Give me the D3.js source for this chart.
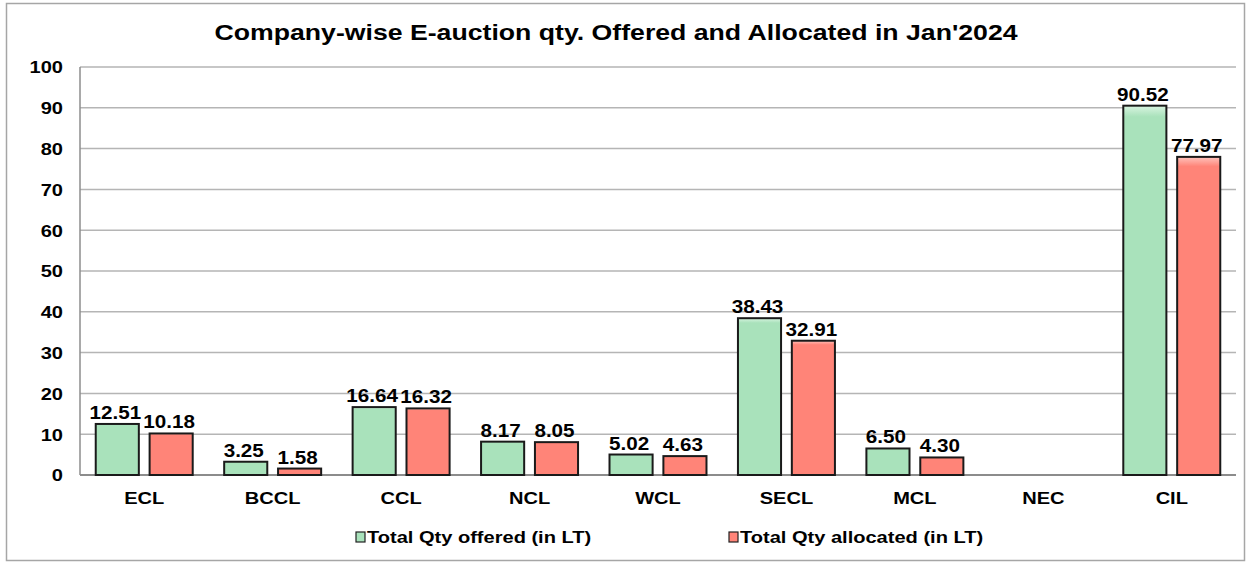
<!DOCTYPE html>
<html>
<head>
<meta charset="utf-8">
<script src="https://cdn.jsdelivr.net/npm/d3@7"></script>
<style>
body { margin: 0; background: #fff; }
text { font-family: Arial, "Liberation Sans", sans-serif; font-weight: bold; fill: #000; }
</style>
</head>
<body>
<svg></svg>
<script>
let companies = ['ECL', 'BCCL', 'CCL', 'NCL', 'WCL', 'SECL', 'MCL', 'NEC', 'CIL']
let offered = [12.51, 3.25, 16.64, 8.17, 5.02, 38.43, 6.50, null, 90.52]
let allocated = [10.18, 1.58, 16.32, 8.05, 4.63, 32.91, 4.30, null, 77.97]
let seriesNames = ['Total Qty offered (in LT)', 'Total Qty allocated (in LT)']
let yTicks = [0, 10, 20, 30, 40, 50, 60, 70, 80, 90, 100]

let width = 1248
let height = 565
let plotLeft = 80
let plotRight = 1236
let plotTop = 67
let plotBottom = 475
let stretch = 1.18   // the original text is a bit wide
let colors = ['#a9e2bb', '#ff8478']
let lights = ['#d9f4e1', '#ffc4bd']

let svg = d3.select('svg').attr('width', width).attr('height', height)

// move x/y into a transform so the text can be widened in place
let widen = (sel) => {
    sel.each(function () {
        let t = d3.select(this)
        let x = +t.attr('x') || 0
        let y = +t.attr('y') || 0
        t.attr('x', 0).attr('y', 0)
            .attr('transform', 'translate(' + x + ',' + y + ') scale(' + stretch + ',1)')
    })
}

let defs = svg.append('defs')
colors.forEach((c, i) => {
    let g = defs.append('linearGradient').attr('id', 'grad' + i)
        .attr('x1', 0).attr('y1', 0).attr('x2', 0).attr('y2', 1)
    g.append('stop').attr('offset', '0%').attr('stop-color', lights[i])
    g.append('stop').attr('offset', '3%').attr('stop-color', c)
    g.append('stop').attr('offset', '100%').attr('stop-color', c)
})

// outer frame
svg.append('rect')
    .attr('x', 6.5).attr('y', 3.5)
    .attr('width', 1238).attr('height', 557)
    .attr('fill', 'none').attr('stroke', '#a6a6a6').attr('stroke-width', 1.5)

svg.append('text')
    .attr('x', 616).attr('y', 40)
    .attr('text-anchor', 'middle')
    .style('font-size', '22.6px')
    .text("Company-wise E-auction qty. Offered and Allocated in Jan'2024")
    .call(widen)

let yScale = d3.scaleLinear().domain([0, 100]).range([plotBottom, plotTop])

let xScale = d3.scaleBand()
    .domain(companies)
    .range([plotLeft, plotRight])
    .paddingInner(0.245)
    .paddingOuter(0.1225)

let xInner = d3.scaleBand()
    .domain([0, 1])
    .range([0, xScale.bandwidth()])
    .paddingInner(0.2)

// gridlines
svg.append('g')
    .selectAll('line')
    .data(yTicks)
    .enter()
    .append('line')
    .attr('x1', plotLeft).attr('x2', plotRight)
    .attr('y1', d => yScale(d)).attr('y2', d => yScale(d))
    .attr('stroke', d => d === 0 ? '#8c8c8c' : '#b5b5b5')
    .attr('stroke-width', d => d === 0 ? 2 : 1.5)

svg.append('line')
    .attr('x1', plotLeft).attr('x2', plotLeft)
    .attr('y1', plotTop).attr('y2', plotBottom)
    .attr('stroke', '#8c8c8c').attr('stroke-width', 1.5)

let yAxis = d3.axisLeft(yScale).tickValues(yTicks).tickSize(0).tickPadding(17)
let yG = svg.append('g')
    .attr('transform', 'translate(' + plotLeft + ',0)')
    .call(yAxis)
yG.select('.domain').remove()
yG.selectAll('text').style('font-size', '17px').attr('dy', '0.35em').call(widen)

let xAxis = d3.axisBottom(xScale).tickSize(0).tickPadding(17)
let xG = svg.append('g')
    .attr('transform', 'translate(0,' + plotBottom + ')')
    .call(xAxis)
xG.select('.domain').remove()
xG.selectAll('text').style('font-size', '17px').call(widen)

let rows = []
companies.forEach((c, i) => {
    rows.push({ company: c, s: 0, value: offered[i] })
    rows.push({ company: c, s: 1, value: allocated[i] })
})
let shown = rows.filter(d => d.value !== null)

svg.append('g')
    .selectAll('rect')
    .data(shown)
    .enter()
    .append('rect')
    .attr('x', d => xScale(d.company) + xInner(d.s))
    .attr('y', d => yScale(d.value))
    .attr('width', xInner.bandwidth())
    .attr('height', d => yScale(0) - yScale(d.value))
    .attr('fill', d => 'url(#grad' + d.s + ')')
    .attr('stroke', '#1a1a1a')
    .attr('stroke-width', 2)

svg.append('g')
    .selectAll('text')
    .data(shown)
    .enter()
    .append('text')
    .attr('x', d => xScale(d.company) + xInner(d.s) + xInner.bandwidth() / 2 - 2)
    .attr('y', d => yScale(d.value) - 5)
    .attr('text-anchor', 'middle')
    .style('font-size', '17.5px')
    .text(d => d.value.toFixed(2))
    .call(widen)

// legend
let legendX = [356, 729]
let legend = svg.append('g')
    .selectAll('g')
    .data(seriesNames)
    .enter()
    .append('g')
    .attr('transform', (d, i) => 'translate(' + legendX[i] + ',537)')
legend.append('rect')
    .attr('x', 0).attr('y', -5)
    .attr('width', 9).attr('height', 10)
    .attr('fill', (d, i) => colors[i])
    .attr('stroke', '#222').attr('stroke-width', 1.2)
legend.append('text')
    .attr('x', 11).attr('y', 0).attr('dy', '0.35em')
    .style('font-size', '17px')
    .text(d => d)
    .call(widen)
</script>
</body>
</html>
